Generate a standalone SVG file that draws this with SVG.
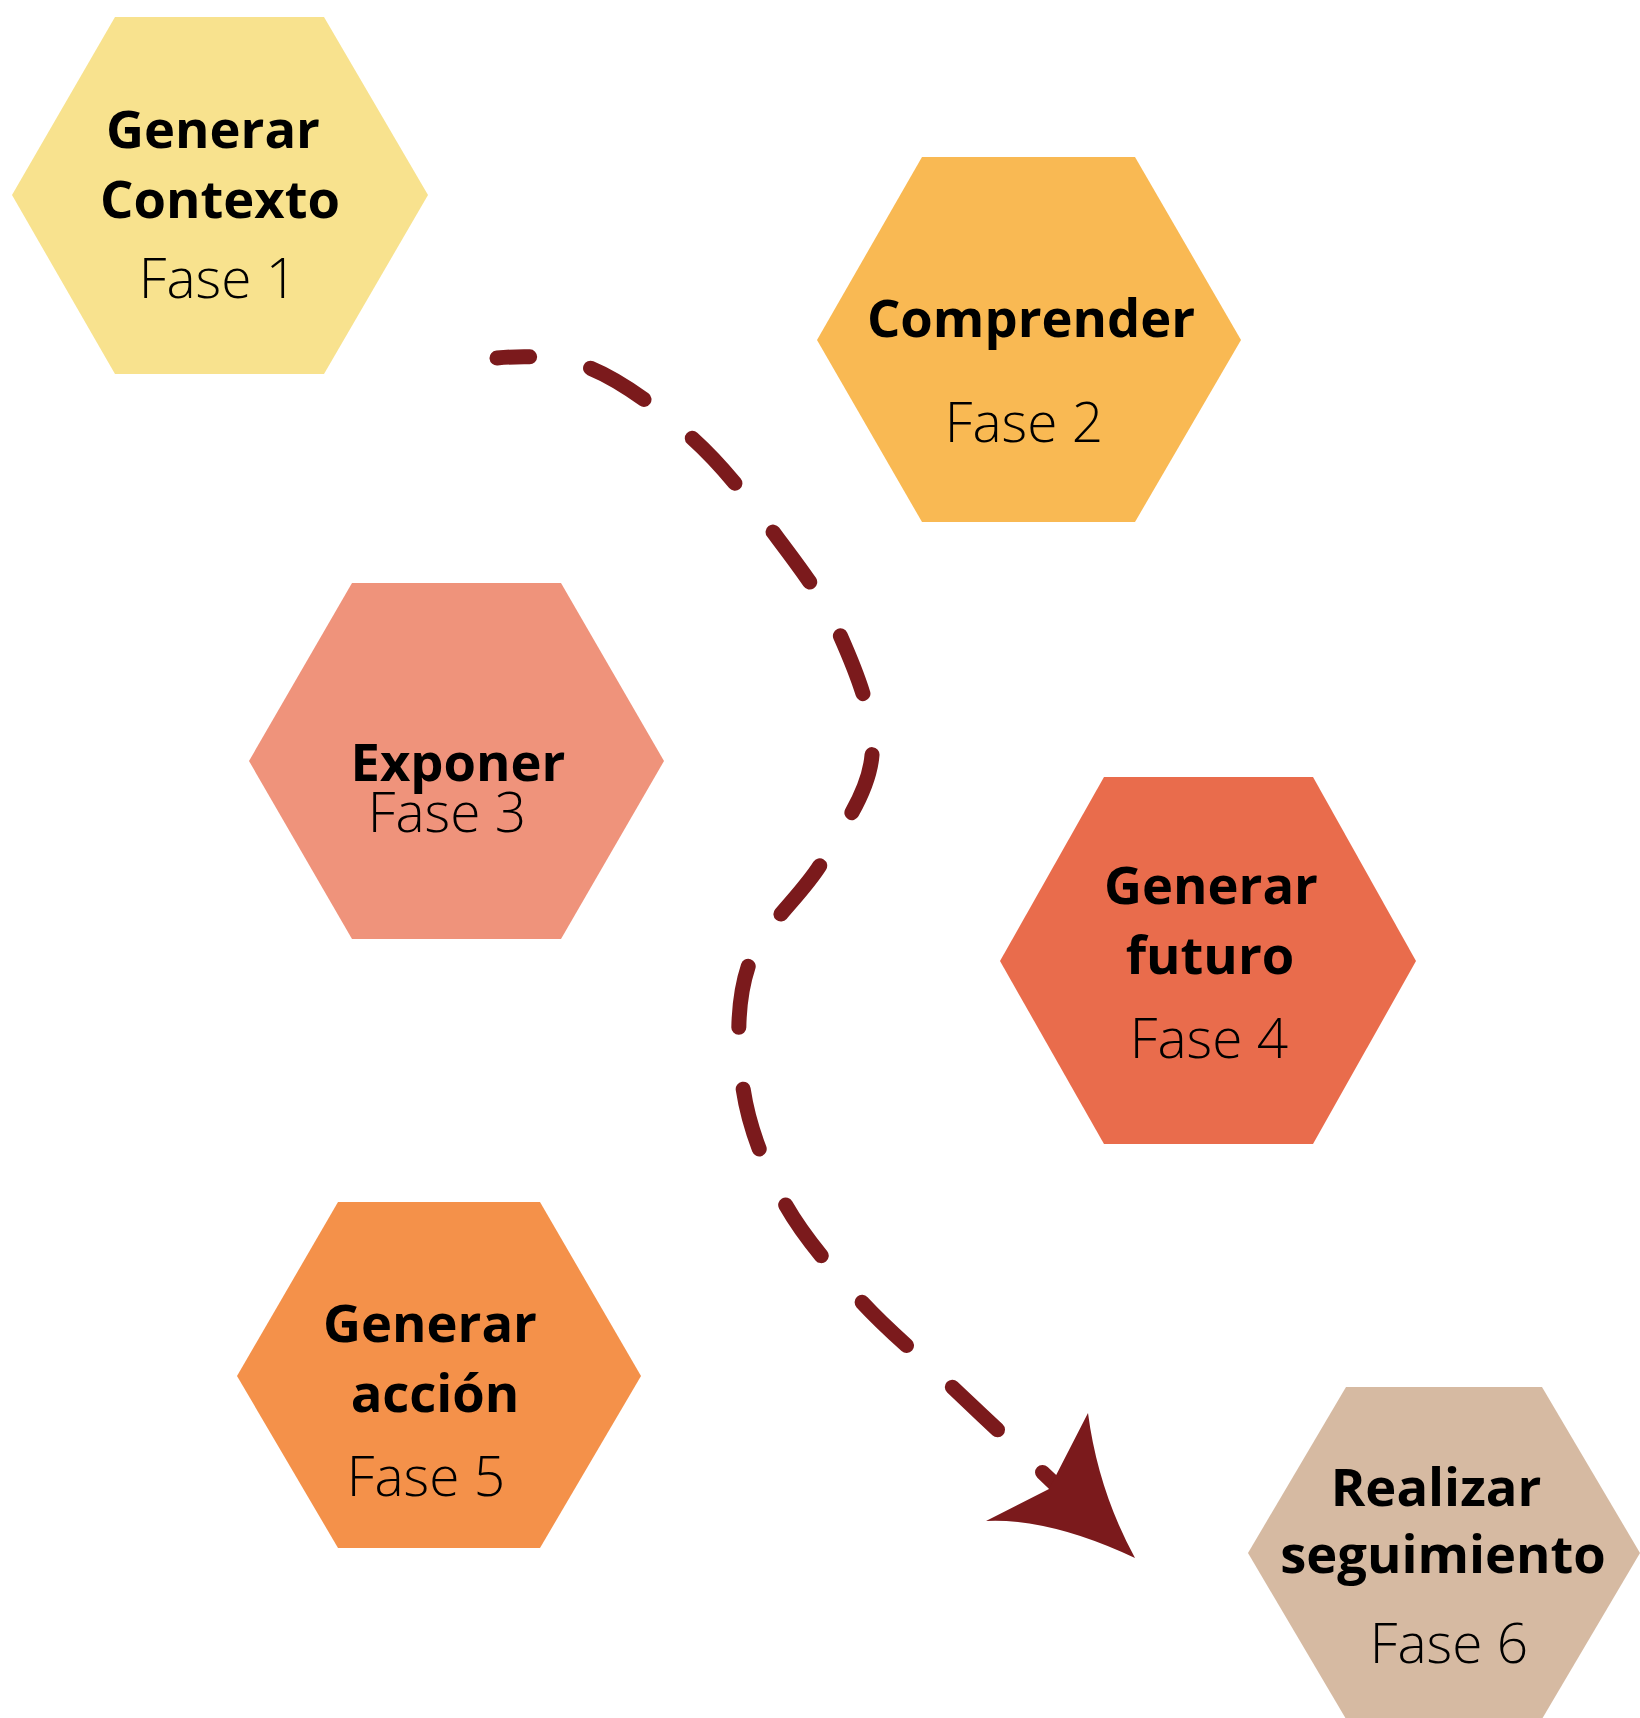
<svg xmlns="http://www.w3.org/2000/svg" width="1640" height="1718" viewBox="0 0 1640 1718">
<style>
.b{font-family:"Open Sans","Liberation Sans",sans-serif;font-weight:700;font-size:52.5px;fill:#000;text-anchor:middle}
.l{font-family:"Open Sans","Liberation Sans",sans-serif;font-weight:300;font-size:55px;fill:#000;text-anchor:middle}
.flow{fill:none;stroke:#7B1A1C;stroke-width:15;stroke-linecap:round;stroke-dasharray:62 62;stroke-dashoffset:29}
</style>
<rect width="1640" height="1718" fill="#fff"/>
<g id="fase1">
<polygon points="115,17 324,17 428,195 324,374 115,374 12,195" fill="#F8E28E"/>
<text class="b" x="213" y="148">Generar</text>
<text class="b" x="220" y="218">Contexto</text>
<text class="l" x="218" y="298">Fase 1</text>
</g>
<g id="fase2">
<polygon points="922,157 1135,157 1241,340 1135,522 922,522 817,340" fill="#F9B953"/>
<text class="b" x="1031" y="337">Comprender</text>
<text class="l" x="1024" y="442">Fase 2</text>
</g>
<g id="fase3">
<polygon points="352,583 561,583 664,761 561,939 352,939 249,761" fill="#EF937B"/>
<text class="b" x="458" y="781">Exponer</text>
<text class="l" x="447" y="832">Fase 3</text>
</g>
<g id="fase4">
<polygon points="1104,777 1313,777 1416,961 1313,1144 1104,1144 1000,961" fill="#E96C4C"/>
<text class="b" x="1211" y="904">Generar</text>
<text class="b" x="1210" y="974">futuro</text>
<text class="l" x="1209" y="1058">Fase 4</text>
</g>
<g id="fase5">
<polygon points="338,1202 540,1202 641,1376 540,1548 338,1548 237,1376" fill="#F4914A"/>
<text class="b" x="430" y="1342">Generar</text>
<text class="b" x="435" y="1412">acción</text>
<text class="l" x="426" y="1496">Fase 5</text>
</g>
<g id="fase6">
<polygon points="1346,1387 1542,1387 1640,1553 1542,1719 1346,1719 1248,1553" fill="#D6BAA2"/>
<text class="b" x="1436" y="1506">Realizar</text>
<text class="b" x="1443" y="1573">seguimiento</text>
<text class="l" x="1449" y="1663">Fase 6</text>
</g>
<g id="connectors">
<path class="flow" d="M497,358 C520,356 557.5,354.7 590,368 C622.5,381.3 661.5,410.7 692,438 C722.5,465.3 748.3,499.2 773,532 C797.7,564.8 823.5,597.8 840,635 C856.5,672.2 875,717.2 872,755 C869,792.8 842.5,827.2 822,862 C801.5,896.8 762.2,926.3 749,964 C735.8,1001.7 737.2,1048.3 743,1088 C748.8,1127.7 764.5,1166.7 784,1202 C803.5,1237.3 832.5,1269.7 860,1300 C887.5,1330.3 919,1355.7 949,1384 C979,1412.3 1021.5,1452.5 1040,1470 L1060,1489"/>
<path d="M1088,1413 Q1098,1490 1135,1558 Q1050,1518 986,1521 L1049,1489 Z" fill="#7B1A1C"/>
</g>
</svg>
